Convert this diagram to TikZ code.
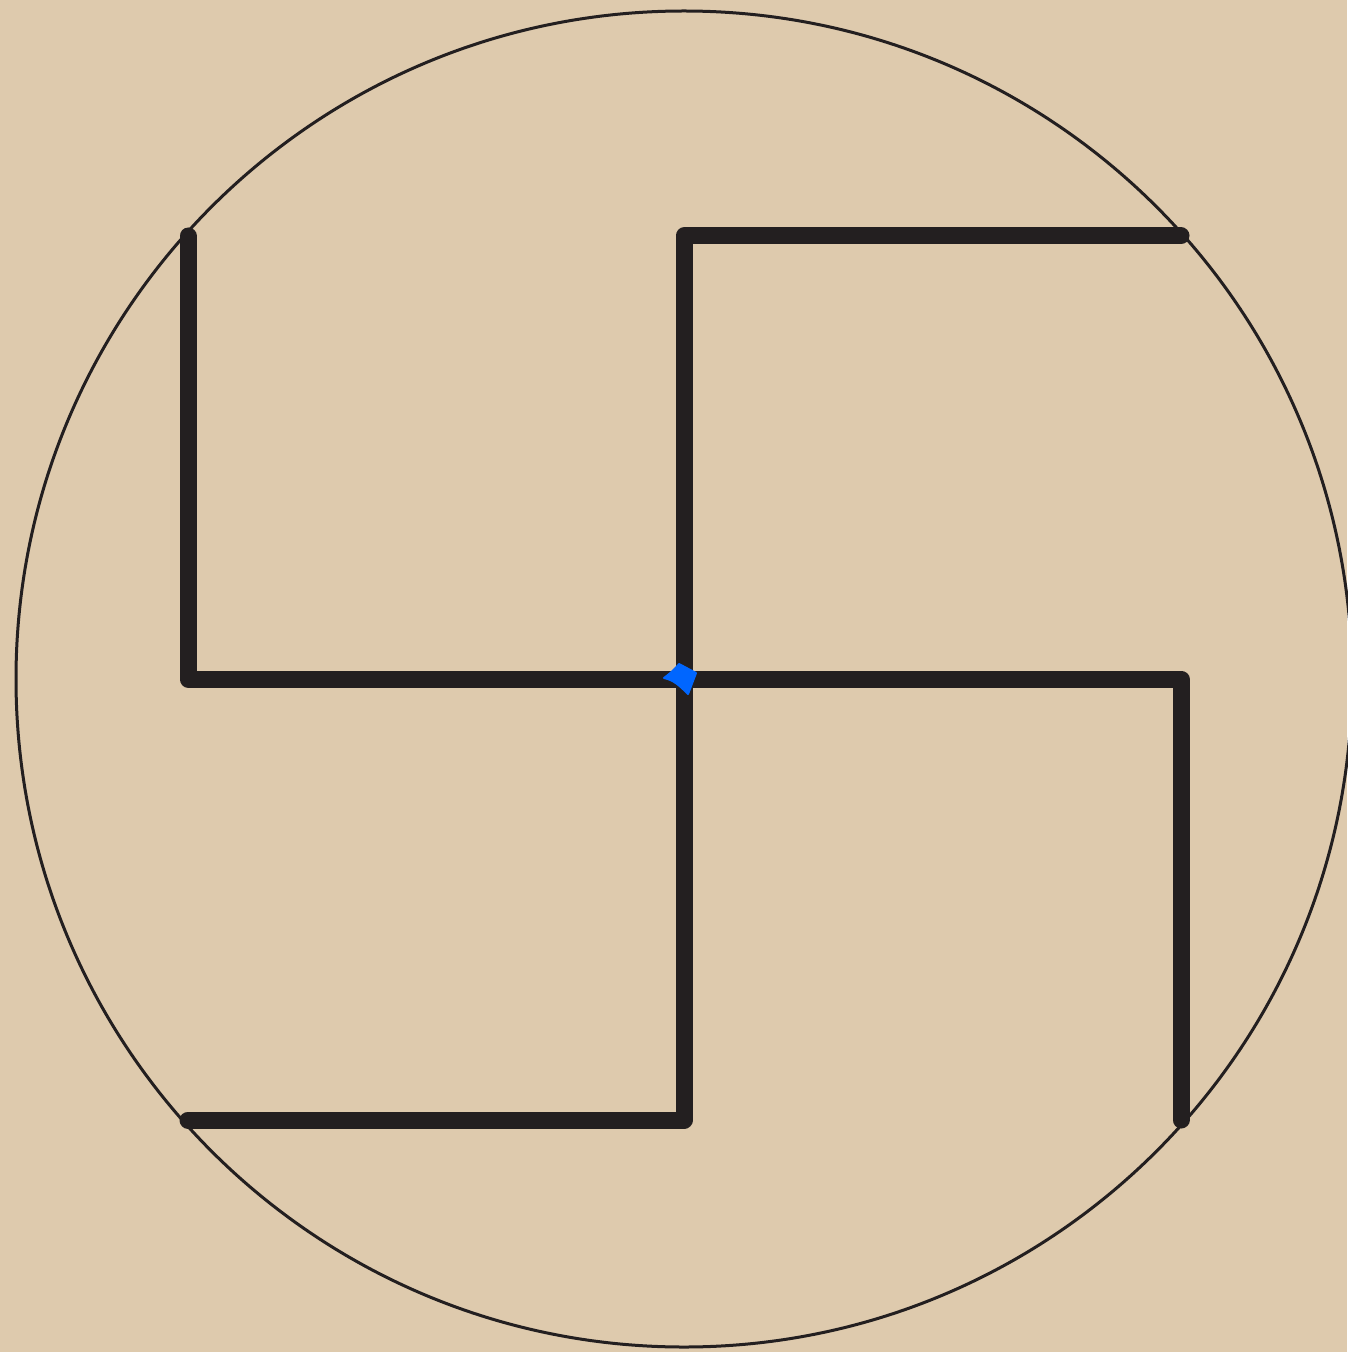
\documentclass[tikz,border=0pt]{standalone}
\definecolor{paper}{RGB}{222,202,173}
\definecolor{ink}{RGB}{35,31,32}
\definecolor{bluemark}{RGB}{0,102,255}
\tikzset{
  arm/.style={draw=ink, line width=8.5pt, line cap=round, line join=round},
  ring/.style={draw=ink, line width=1.5pt},
}
\begin{document}
\begin{tikzpicture}[x=0.5pt,y=-0.5pt]
\fill[paper] (0,0) rectangle (1347,1352);
\useasboundingbox (0,0) rectangle (1347,1352);
\coordinate (C) at (684,679);
\draw[ring] (C) circle[radius=668];
\coordinate (T) at (684,236);
\coordinate (TR) at (1181,236);
\coordinate (R) at (1181,679);
\coordinate (RB) at (1181,1120);
\coordinate (B) at (684,1120);
\coordinate (BL) at (188,1120);
\coordinate (L) at (188,679);
\coordinate (LT) at (188,236);
\draw[arm] (TR) -- (T) -- (C) -- (B) -- (BL);
\draw[arm] (LT) -- (L) -- (C) -- (R) -- (RB);
\filldraw[bluemark, line width=1pt, line join=round] (664,678) .. controls (672,672) and (676,668) .. (679,664) -- (696,673) -- (688,694) .. controls (680,686) and (674,680) .. cycle;
\end{tikzpicture}
\end{document}
